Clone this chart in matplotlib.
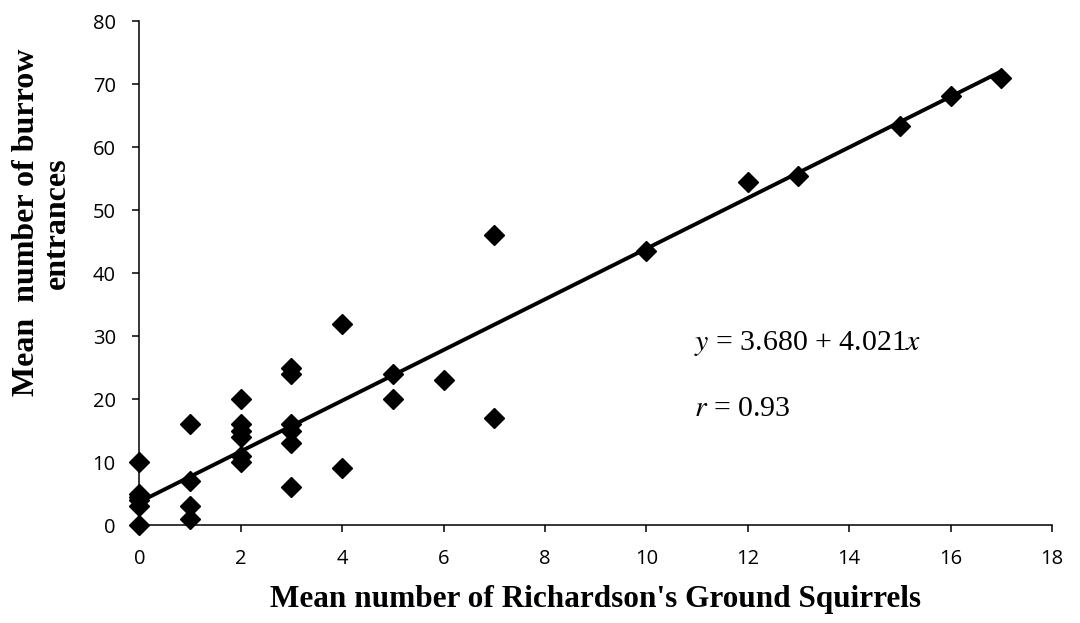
import matplotlib.pyplot as plt
import numpy as np

# squirrels per plot vs burrow entrances
squirrels = [0, 0, 0, 0, 0, 0,
             1, 1, 1, 1,
             2, 2, 2, 2, 2, 2,
             3, 3, 3, 3, 3, 3,
             4, 4,
             5, 5,
             6,
             7, 7,
             10, 12, 13, 15, 16, 17]
burrows = [0, 3, 4, 4.5, 5, 10,
           16, 7, 3, 1,
           20, 16, 15, 14, 11, 10,
           25, 24, 16, 15, 13, 6,
           32, 9,
           24, 20,
           23,
           46, 17,
           43.5, 54.5, 55.5, 63.3, 68.2, 71]

intercept = 3.680
slope = 4.021
fit_x = np.array([0, 17])

fig = plt.figure(figsize=(10.8, 6.23), dpi=100)
ax = fig.add_axes([0.129, 0.157, 0.845, 0.809])

ax.plot(fit_x, intercept + slope * fit_x, color='black', lw=2.8, zorder=2)
ax.plot(squirrels, burrows, 'D', color='black', markersize=10, zorder=3, clip_on=False)

ax.set_xlim(0, 18)
ax.set_ylim(0, 80)
ax.set_xticks(range(0, 19, 2))
ax.set_yticks(range(0, 81, 10))

for s in ['top', 'right']:
    ax.spines[s].set_visible(False)
for s in ['left', 'bottom']:
    ax.spines[s].set_linewidth(1.1)
ax.tick_params(direction='out', length=5, width=1.1, labelsize=14.5, pad=12)
for lab in ax.get_xticklabels() + ax.get_yticklabels():
    lab.set_family('Open Sans')

ax.set_xlabel("Mean number of Richardson's Ground Squirrels", family='Liberation Serif',
              fontsize=22.5, fontweight='bold')
ax.xaxis.set_label_coords(0.5, -0.118)
ax.set_ylabel("Mean  number of burrow\nentrances", family='Liberation Serif',
              fontsize=23, fontweight='bold', linespacing=1.1)
ax.yaxis.set_label_coords(-0.074, 0.6)

ax.text(10.95, 28.8, r"$y$ = 3.680 + 4.021$x$", family='Liberation Serif', fontsize=21.5,
        va='center', math_fontfamily='stix')
ax.text(10.95, 18.4, r"$r$ = 0.93", family='Liberation Serif', fontsize=21.5,
        va='center', math_fontfamily='stix')

fig.savefig('out.png', dpi=100)
